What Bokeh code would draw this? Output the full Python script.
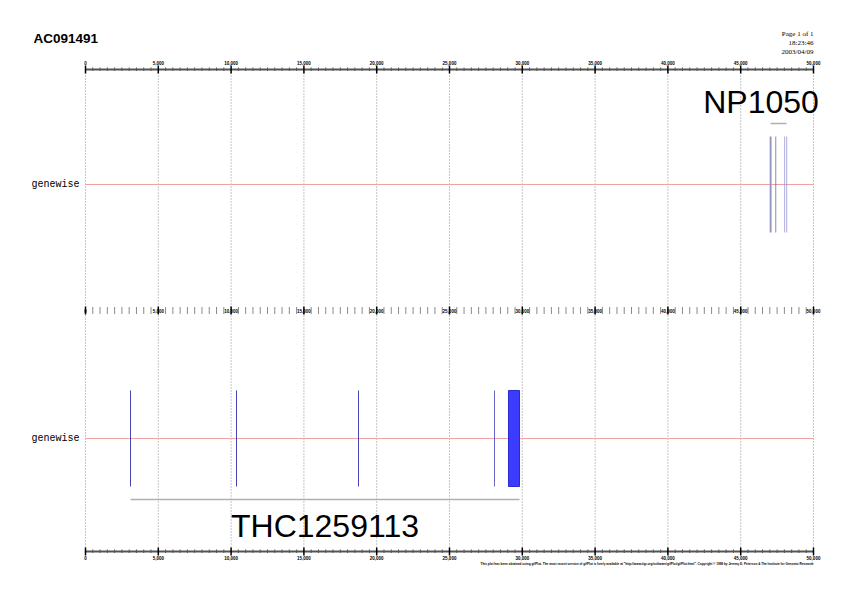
import numpy as np
from bokeh.plotting import figure
from bokeh.models import Range1d
from bokeh.core.properties import value
from bokeh.embed import file_html
from bokeh.resources import INLINE

# ---------------- data ----------------
title_text = "AC091491"
page_info = ["Page 1 of 1", "18:23:46", "2003/04/09"]
footer_text = ('This plot has been obtained using gifPlot. The most recent version of gifPlot is freely available at '
               '"http://www.tigr.org/software/gifPlot/gifPlot.html". Copyright \u00a9 1999 by Jeremy D. Peterson & The Institute for Genomic Research')
track_labels = ["genewise", "genewise"]

axis_start = 0
axis_end = 50000
major_ticks = list(range(0, 50001, 5000))
minor_ticks = [t for t in range(0, 50001, 500) if t % 5000 != 0]
tick_labels = [f"{t:,}" for t in major_ticks]

# upper track: NP1050 (genewise hits)
np1050_start = [46990, 47395, 48000, 48140]
np1050_end = [47120, 47435, 48050, 48190]
np1050_color = ["#9494c4", "#3c3c5c", "#9090d0", "#9090d0"]
np1050_span = [47047, 48146]
np1050_name = "NP1050"
np1050_label_x = 46394

# lower track: THC1259113 (genewise hits)
thc_start = [3060, 10340, 18720, 28060, 29052]
thc_end = [3120, 10400, 18780, 28120, 29808]
thc_color = ["#2c2ca8", "#2c2ca8", "#2c2ca8", "#5050c0", "#3c3cff"]
thc_span = [3091, 29808]
thc_name = "THC1259113"
thc_label_x = 16449

# ---------------- layout (page pixel rows) ----------------
W, H = 826, 579
px_left, px_right = 85, 813
scale = (axis_end - axis_start) / (px_right - px_left)
x0 = axis_start - px_left * scale
x1 = x0 + W * scale

Y_TOP_AXIS, Y_MID_AXIS, Y_BOT_AXIS = 69, 310, 551
Y_TRACK = [184, 438]
HALF = 48

p = figure(width=W, height=H, x_range=Range1d(x0, x1), y_range=Range1d(H, 0),
           output_backend="svg", toolbar_location=None, x_axis_type=None, y_axis_type=None,
           min_border=0, outline_line_color=None)
p.xgrid.visible = False
p.ygrid.visible = False

# dotted grid lines
p.segment(x0=major_ticks, x1=major_ticks, y0=[Y_TOP_AXIS] * len(major_ticks),
          y1=[Y_BOT_AXIS] * len(major_ticks), line_color="#8c8c8c", line_width=1, line_dash="1 2")

# red track lines
for yt in Y_TRACK:
    p.segment(x0=[axis_start], x1=[axis_end], y0=[yt], y1=[yt], line_color="#f2a0a0", line_width=1)

# top axis
p.segment(x0=[axis_start], x1=[axis_end], y0=[Y_TOP_AXIS], y1=[Y_TOP_AXIS], line_color="#555555", line_width=2)
p.segment(x0=minor_ticks, x1=minor_ticks, y0=[Y_TOP_AXIS - 2] * len(minor_ticks),
          y1=[Y_TOP_AXIS + 1.5] * len(minor_ticks), line_color="#555555", line_width=1)
p.segment(x0=major_ticks, x1=major_ticks, y0=[Y_TOP_AXIS - 4] * len(major_ticks),
          y1=[Y_TOP_AXIS + 4] * len(major_ticks), line_color="#000000", line_width=1.5)
p.text(x=major_ticks, y=[Y_TOP_AXIS - 4.5] * len(major_ticks), text=tick_labels,
       text_font=value("Liberation Sans"), text_font_size="4.5px", text_font_style="bold",
       text_align="center", text_baseline="bottom", text_color="#000000")

# middle axis
p.segment(x0=minor_ticks, x1=minor_ticks, y0=[Y_MID_AXIS - 3.5] * len(minor_ticks),
          y1=[Y_MID_AXIS + 3.5] * len(minor_ticks), line_color="#8a8a8a", line_width=1)
p.segment(x0=major_ticks, x1=major_ticks, y0=[Y_MID_AXIS - 4] * len(major_ticks),
          y1=[Y_MID_AXIS + 4] * len(major_ticks), line_color="#000000", line_width=1.5)
p.text(x=major_ticks, y=[Y_MID_AXIS] * len(major_ticks), text=tick_labels,
       text_font=value("Liberation Sans"), text_font_size="4.5px", text_font_style="bold",
       text_align="center", text_baseline="middle", text_color="#000000")

# bottom axis
p.segment(x0=[axis_start], x1=[axis_end], y0=[Y_BOT_AXIS], y1=[Y_BOT_AXIS], line_color="#555555", line_width=2)
p.segment(x0=minor_ticks, x1=minor_ticks, y0=[Y_BOT_AXIS - 2] * len(minor_ticks),
          y1=[Y_BOT_AXIS + 1.5] * len(minor_ticks), line_color="#555555", line_width=1)
p.segment(x0=major_ticks, x1=major_ticks, y0=[Y_BOT_AXIS - 4] * len(major_ticks),
          y1=[Y_BOT_AXIS + 4] * len(major_ticks), line_color="#000000", line_width=1.5)
p.text(x=major_ticks, y=[Y_BOT_AXIS + 4.5] * len(major_ticks), text=tick_labels,
       text_font=value("Liberation Sans"), text_font_size="4.5px", text_font_style="bold",
       text_align="center", text_baseline="top", text_color="#000000")

# track labels
p.text(x=[x0 + 79 * scale] * 2, y=Y_TRACK, text=track_labels,
       text_font=value("Liberation Mono"), text_font_size="10px",
       text_align="right", text_baseline="middle", text_color="#000000")

# NP1050 feature
n = len(np1050_start)
p.quad(left=np1050_start, right=np1050_end, top=[Y_TRACK[0] - HALF] * n, bottom=[Y_TRACK[0] + HALF] * n,
       fill_color=np1050_color, line_color=None)
p.segment(x0=[np1050_span[0]], x1=[np1050_span[1]], y0=[123], y1=[123], line_color="#b0b0b0", line_width=1.5)
p.text(x=[np1050_label_x], y=[101], text=[np1050_name], text_font=value("Liberation Sans"),
       text_font_size="32px", text_align="center", text_baseline="middle", text_color="#000000")

# THC1259113 feature
m = len(thc_start)
p.quad(left=thc_start, right=thc_end, top=[Y_TRACK[1] - HALF] * m, bottom=[Y_TRACK[1] + HALF] * m,
       fill_color=thc_color, line_color=None)
p.quad(left=[thc_start[-1]], right=[thc_end[-1]], top=[Y_TRACK[1] - HALF], bottom=[Y_TRACK[1] + HALF],
       fill_color=None, line_color="#2a2ad0", line_width=1)
p.segment(x0=[thc_span[0]], x1=[thc_span[1]], y0=[499], y1=[499], line_color="#b0b0b0", line_width=1.5)
p.text(x=[thc_label_x], y=[525], text=[thc_name], text_font=value("Liberation Sans"),
       text_font_size="32px", text_align="center", text_baseline="middle", text_color="#000000")

# title and page info
p.text(x=[x0 + 33 * scale], y=[38], text=[title_text], text_font=value("Liberation Sans"),
       text_font_size="13.5px", text_font_style="bold", text_align="left", text_baseline="middle",
       text_color="#000000")
p.text(x=[axis_end] * 3, y=[33, 42, 51], text=page_info, text_font=value("Liberation Serif"),
       text_font_size="7px", text_align="right", text_baseline="middle", text_color="#000000")
p.text(x=[axis_end], y=[563], text=[footer_text], text_font=value("Liberation Sans"),
       text_font_size="3.1px", text_font_style="bold", text_align="right", text_baseline="middle",
       text_color="#000000")

open("out.html", "w").write(file_html(p, INLINE))
